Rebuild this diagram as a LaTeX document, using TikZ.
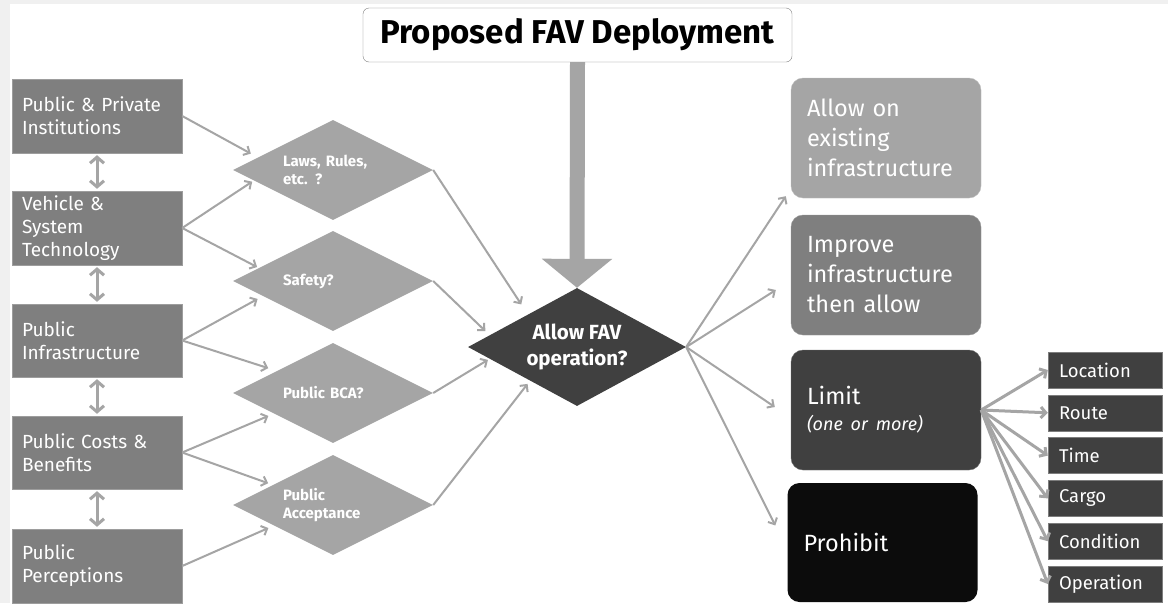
\documentclass[tikz,border=0pt]{standalone}
\usepackage{fontspec}
\setmainfont{Fira Sans}
\usetikzlibrary{shapes.geometric,arrows.meta,calc}

\definecolor{favlight}{HTML}{A5A5A5}
\definecolor{favmid}{HTML}{7F7F7F}
\definecolor{favdark}{HTML}{404040}
\definecolor{favblack}{HTML}{0C0C0C}
\definecolor{favpage}{HTML}{F0F0F0}

\tikzset{
  srcbox/.style={rectangle, fill=favmid, draw=favlight!80!favmid, minimum width=170pt,
    minimum height=74pt, text width=150pt, inner sep=0pt, align=left, text=white,
    font=\fontsize{19}{23}\selectfont},
  qdiamond/.style={diamond, aspect=2, fill=favlight, minimum width=200pt, minimum height=100pt,
    inner sep=0pt, text width=100pt, align=left, text=white,
    font=\bfseries\fontsize{15}{18}\selectfont},
  outbox/.style={rectangle, rounded corners=12pt, minimum width=190pt, minimum height=120pt,
    text width=158pt, inner sep=0pt, align=left, text=white,
    font=\fontsize{23.5}{30}\selectfont},
  limbox/.style={rectangle, fill=favdark, draw=favlight!60!favdark, minimum width=114pt,
    minimum height=36pt, text width=92pt, inner sep=0pt, align=left, text=white,
    font=\fontsize{18.5}{20}\selectfont},
  flow/.style={draw=favlight, line width=2pt, -{Straight Barb[length=5pt,width=10pt]}},
  limflow/.style={draw=favlight, line width=3pt, -{Straight Barb[length=5pt,width=11pt]}},
  link/.style={draw=favlight, line width=3pt,
    {Straight Barb[length=6pt,width=14pt]}-{Straight Barb[length=6pt,width=14pt]}}
}

\begin{document}
\begin{tikzpicture}[x=1pt, y=-1pt]

  % page
  \fill[favpage] (0,0) rectangle (1168,603);
  \fill[white] (10,4) rectangle (1168,603);
  \useasboundingbox (0,0) rectangle (1168,603);

  % title and main question
  \node[draw=favmid, fill=white, rounded corners=6pt, minimum width=429pt, minimum height=54pt,
    font=\bfseries\fontsize{33}{36}\selectfont] (title) at (577.5,35) {Proposed FAV Deployment};
  \node[diamond, aspect=1.85, fill=favdark, minimum width=218pt, minimum height=118pt, inner sep=0pt,
    align=center, text=white, font=\bfseries\fontsize{20.5}{26}\selectfont]
    (allowq) at (577,347) {Allow FAV\\operation?};
  \draw[favlight, line width=15pt, -{Triangle[length=29pt,width=69pt]}] (title.south) -- (allowq.north);

  % factors on the left
  \node[srcbox] (inst) at (97,116) {Public \& Private\\Institutions};
  \node[srcbox] (tech) at (97,228) {Vehicle \&\\System\\Technology};
  \node[srcbox, minimum height=73pt] (infra) at (97,340.5) {Public\\Infrastructure};
  \node[srcbox, minimum height=73pt] (cost) at (97,452.5) {Public Costs \&\\Benefits};
  \node[srcbox] (perc) at (97,566) {Public\\Perceptions};
  \draw[link, shorten <=2pt, shorten >=2pt] (inst) -- (tech);
  \draw[link, shorten <=2pt, shorten >=2pt] (tech) -- (infra);
  \draw[link, shorten <=2pt, shorten >=2pt] (infra) -- (cost);
  \draw[link, shorten <=2pt, shorten >=2pt] (cost) -- (perc);

  % questions
  \node[qdiamond] (laws) at (333,170) {Laws, Rules,\\etc. ?};
  \node[qdiamond] (safe) at (333,281) {Safety?};
  \node[qdiamond] (bca) at (333,393) {Public BCA?};
  \node[qdiamond] (accept) at (333,505) {Public\\Acceptance};

  \draw[flow, shorten >=8pt] (inst.east) -- ($(laws.west)!0.25!(laws.north)$);
  \draw[flow, shorten >=2pt] (tech.east) -- ($(laws.west)!0.21!(laws.south)$);
  \draw[flow, shorten >=2pt] (tech.east) -- ($(safe.west)!0.26!(safe.north)$);
  \draw[flow, shorten >=6pt] (infra.east) -- ($(safe.west)!0.3!(safe.south)$);
  \draw[flow, shorten >=9pt] (infra.east) -- ($(bca.west)!0.44!(bca.north)$);
  \draw[flow, shorten >=6pt] (cost.east) -- ($(bca.west)!0.41!(bca.south)$);
  \draw[flow, shorten >=5pt] (cost.east) -- ($(accept.west)!0.4!(accept.north)$);
  \draw[flow, shorten >=6pt] (perc.east) -- ($(accept.west)!0.41!(accept.south)$);

  \draw[flow, shorten >=12pt] (laws.east) -- ($(allowq.west)!0.55!(allowq.north)$);
  \draw[flow, shorten >=6pt] (safe.east) -- ($(allowq.west)!0.2!(allowq.north)$);
  \draw[flow, shorten >=2pt] (bca.east) -- ($(allowq.west)!0.2!(allowq.south)$);
  \draw[flow, shorten >=4pt] (accept.east) -- ($(allowq.west)!0.57!(allowq.south)$);

  % outcomes
  \node[outbox, fill=favlight, draw=favlight!70!white] (allowon) at (886,138)
    {Allow on\\existing\\infrastructure};
  \node[outbox, fill=favmid, draw=favlight!70!favmid] (improve) at (886,275)
    {Improve\\infrastructure\\then allow};
  \node[outbox, fill=favdark, draw=favlight!50!favdark] (limit) at (886,410)
    {Limit\\[-4pt]{\itshape\fontsize{18}{20}\selectfont (one or more)}};
  \node[outbox, fill=favblack, minimum height=119pt] (prohibit) at (882.5,542.5) {Prohibit};

  \draw[flow] (allowq.east) -- ($(allowon.south west)+(-5,-2)$);
  \draw[flow] (allowq.east) -- ($(improve.west)+(-15,15)$);
  \draw[flow] (allowq.east) -- ($(limit.west)+(-16,-3)$);
  \draw[flow] (allowq.east) -- ($(prohibit.west)+(-12,-17)$);

  % kinds of limits
  \foreach \lbl [count=\i] in {Location,Route,Time,Cargo,Condition,Operation}
    \node[limbox] (lim\i) at (1105,{327.2+42.8*\i}) {\lbl};
  \foreach \i in {1,...,6}
    \draw[limflow] (limit.east) -- (lim\i.west);

\end{tikzpicture}
\end{document}
